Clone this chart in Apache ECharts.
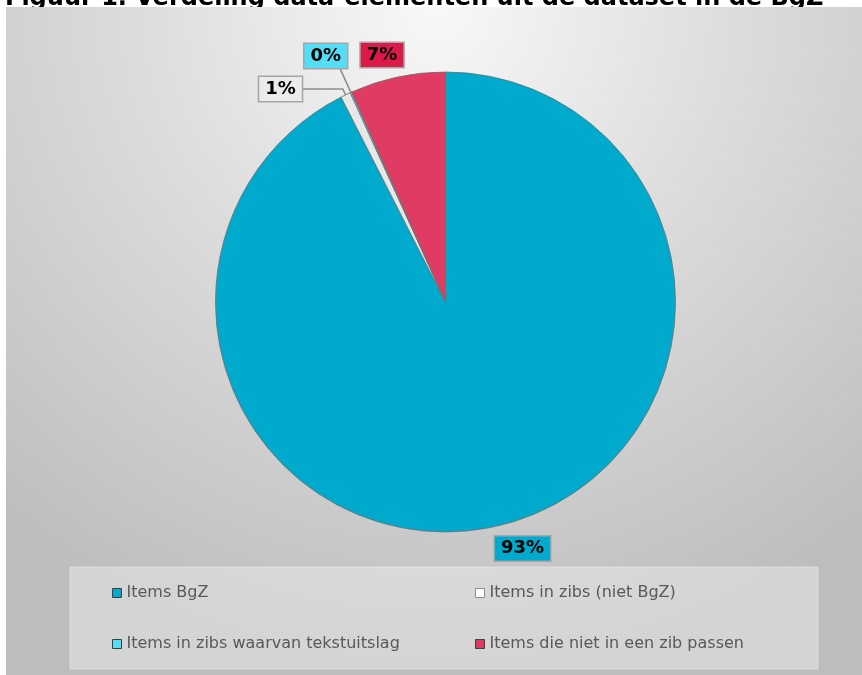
<!DOCTYPE html>
<html>
<head>
<meta charset="utf-8">
<script src="https://cdn.jsdelivr.net/npm/echarts@6/dist/echarts.min.js"></script>
<style>
html,body{margin:0;padding:0;background:#fff;}
#main{width:862px;height:675px;}
</style>
</head>
<body>
<div id="main"></div>
<script>
const titleText = 'Figuur 1. Verdeling data-elementen uit de dataset in de BgZ';
const categories = [
  'Items BgZ',
  'Items in zibs (niet BgZ)',
  'Items in zibs waarvan tekstuitslag',
  'Items die niet in een zib passen'
];
const values = [92.5, 0.7, 0.1, 6.7];

const sliceColors = ['#00AACC', '#E8E8E8', '#55DDF5', '#E03C63'];
const labelColors = ['#00AACC', '#EBEBEB', '#55DDF5', '#DC1A4A'];
const legendColors = ['#00AACC', '#FFFFFF', '#55DDF5', '#DC3A62'];
// per-slice label placement (leader line lengths)
const labelPlacement = [
  {len: 23.5, len2: -9.7, line: false},
  {len: 6.5, len2: 41, line: true},
  {len: 40, len2: -12.6, line: true},
  {len: 22.6, len2: -10.6, line: false}
];

const chart = echarts.init(document.getElementById('main'), null, {renderer: 'canvas'});

const pieData = categories.map((name, i) => ({
  name: name,
  value: values[i],
  itemStyle: {color: sliceColors[i]},
  label: {backgroundColor: labelColors[i]},
  labelLine: {
    show: labelPlacement[i].line,
    length: labelPlacement[i].len,
    length2: labelPlacement[i].len2
  }
}));

const legendData = (idx) => idx.map(i => ({
  name: categories[i],
  itemStyle: {color: legendColors[i], borderColor: i === 1 ? '#8a8a8a' : '#3f3f3f', borderWidth: 1}
}));

const legendCommon = {
  orient: 'vertical',
  icon: 'rect',
  itemWidth: 9,
  itemHeight: 9,
  itemGap: 31,
  padding: 0,
  selectedMode: false,
  textStyle: {fontFamily: 'DejaVu Sans', fontSize: 16, color: '#595959', lineHeight: 20}
};

chart.setOption({
  animation: false,
  title: {
    text: titleText,
    left: 0,
    top: -18,
    z: 0,
    textStyle: {fontFamily: 'DejaVu Sans', fontWeight: 'bold', fontSize: 24, color: '#000'}
  },
  graphic: [
    {
      type: 'rect',
      z: 1,
      shape: {x: 6, y: 7, width: 862, height: 675},
      style: {
        fill: new echarts.graphic.RadialGradient(0.5, 0, 1.0, [
          {offset: 0, color: '#f8f8f8'},
          {offset: 0.45, color: '#dcdcdc'},
          {offset: 1, color: '#bdbdbd'}
        ])
      }
    },
    {
      type: 'rect',
      z: 1.5,
      shape: {x: 70, y: 567, width: 748, height: 102},
      style: {fill: 'rgba(240,240,240,0.45)', stroke: 'rgba(235,235,235,0.6)', lineWidth: 1}
    }
  ],
  legend: [
    Object.assign({}, legendCommon, {left: 112, top: 583, data: legendData([0, 2])}),
    Object.assign({}, legendCommon, {left: 475, top: 583, data: legendData([1, 3])})
  ],
  series: [{
    type: 'pie',
    center: [445.5, 302],
    radius: 230,
    startAngle: 90,
    clockwise: true,
    avoidLabelOverlap: false,
    emphasis: {disabled: true},
    itemStyle: {borderColor: '#6f6f6f', borderWidth: 0.8},
    label: {
      show: true,
      position: 'outside',
      formatter: p => Math.round(p.value) + '%',
      fontFamily: 'DejaVu Sans',
      fontWeight: 'bold',
      fontSize: 18,
      lineHeight: 21,
      color: '#000',
      padding: [2, 6, 1, 6],
      borderColor: '#a6a6a6',
      borderWidth: 1.5,
      distanceToLabelLine: 0
    },
    labelLine: {
      minTurnAngle: 0,
      maxSurfaceAngle: 0,
      smooth: false,
      lineStyle: {color: '#8c8c8c', width: 1.5}
    },
    data: pieData
  }]
});
</script>
</body>
</html>
